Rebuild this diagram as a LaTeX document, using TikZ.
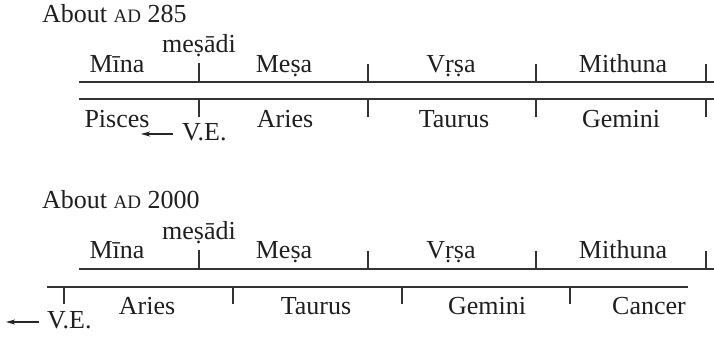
\documentclass[tikz,border=0pt]{standalone}
\usepackage{fontspec}
\setmainfont{Liberation Serif}
\usetikzlibrary{arrows.meta}
\newcommand{\smallAD}{{\fontsize{19}{20}\selectfont AD}}
\begin{document}
\begin{tikzpicture}[x=1pt,y=-1pt,
  lbl/.style={anchor=base,inner sep=0pt,font=\fontsize{26}{30}\selectfont,text=black!88},
  lbll/.style={lbl,anchor=base west},
  rule/.style={line width=1.3pt,draw=black!80},
  arr/.style={line width=1.2pt,draw=black!85,-{Stealth[length=9pt,width=5pt,inset=2.5pt]}}]
\useasboundingbox (0,0) rectangle (714,338);
% ---------- About AD 285 ----------
\node[lbll] (t1) at (42,22) {About \smallAD\ 285};
\node[lbl] (md1) at (199,52) {meṣādi};
\node[lbl] (mi1) at (117,72) {Mīna};
\node[lbl] (me1) at (284,72) {Meṣa};
\node[lbl] (vr1) at (451,72) {Vṛṣa};
\node[lbl] (mt1) at (623,72) {Mithuna};
\node[lbl] (pi1) at (117,127) {Pisces};
\node[lbl] (ar1) at (285,127) {Aries};
\node[lbl] (ta1) at (454,127) {Taurus};
\node[lbl] (ge1) at (621,127) {Gemini};
\node[lbll] (ve1) at (182,140) {V.E.};
\coordinate (a1s) at (173,134);
\coordinate (a1e) at (141,134);
\draw[arr] (a1s) -- (a1e);
\coordinate (u1l) at (79,82); \coordinate (u1r) at (714,82);
\coordinate (l1l) at (79,99); \coordinate (l1r) at (714,99);
\draw[rule] (u1l) -- (u1r);
\draw[rule] (l1l) -- (l1r);
\draw[rule] (199,63) -- (199,82);
\foreach \x in {368,536,706} \draw[rule] (\x,64) -- (\x,82);
\foreach \x in {199,368,536,706} \draw[rule] (\x,99) -- (\x,117);
% ---------- About AD 2000 ----------
\node[lbll] (t2) at (42,208) {About \smallAD\ 2000};
\node[lbl] (md2) at (199,239) {meṣādi};
\node[lbl] (mi2) at (117,258) {Mīna};
\node[lbl] (me2) at (284,258) {Meṣa};
\node[lbl] (vr2) at (451,258) {Vṛṣa};
\node[lbl] (mt2) at (623,258) {Mithuna};
\node[lbl] (ar2) at (147,314) {Aries};
\node[lbl] (ta2) at (316,314) {Taurus};
\node[lbl] (ge2) at (487,314) {Gemini};
\node[lbl] (ca2) at (649,314) {Cancer};
\node[lbll] (ve2) at (47,328) {V.E.};
\coordinate (a2s) at (39,322);
\coordinate (a2e) at (6,322);
\draw[arr] (a2s) -- (a2e);
\coordinate (u2l) at (79,269); \coordinate (u2r) at (714,269);
\coordinate (l2l) at (47,287); \coordinate (l2r) at (688,287);
\draw[rule] (u2l) -- (u2r);
\draw[rule] (l2l) -- (l2r);
\draw[rule] (199,250) -- (199,269);
\foreach \x in {368,536,706} \draw[rule] (\x,251) -- (\x,269);
\foreach \x in {64,233,402,570} \draw[rule] (\x,287) -- (\x,304);
\end{tikzpicture}
\end{document}
